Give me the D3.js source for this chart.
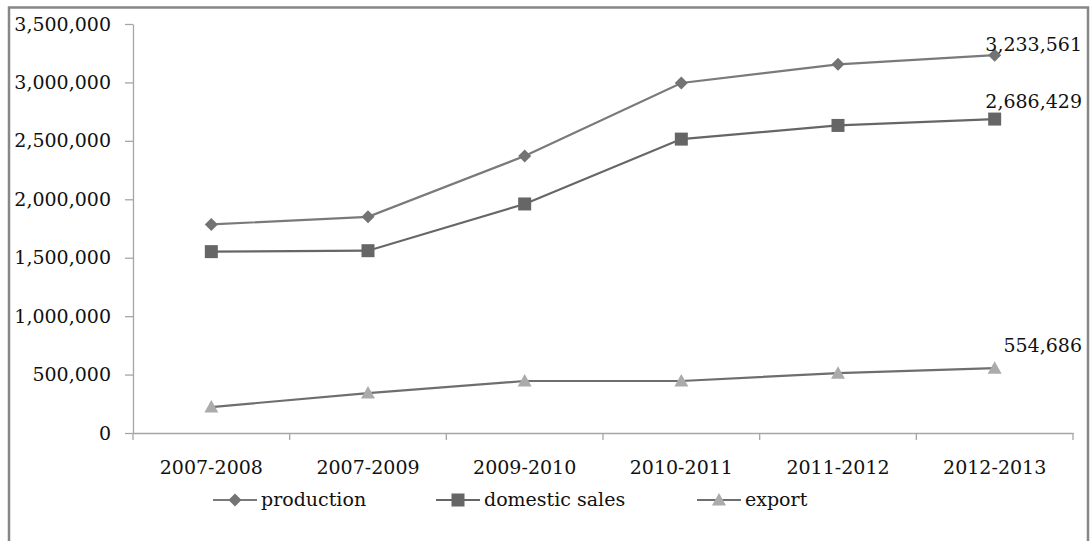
<!DOCTYPE html>
<html><head><meta charset="utf-8">
<script src="https://cdn.jsdelivr.net/npm/d3@7"></script>
<style>html,body{margin:0;padding:0;background:#fff;}svg{display:block;}</style>
</head><body>
<svg id="chart" width="1092" height="541"></svg>
<script>
const categories = ["2007-2008","2007-2009","2009-2010","2010-2011","2011-2012","2012-2013"];
const production = [1785000, 1850000, 2370000, 2995000, 3155000, 3233561];
const domesticSales = [1552000, 1560000, 1960000, 2515000, 2632000, 2686429];
const exportVals = [222000, 342000, 445000, 445000, 512000, 554686];
const yTicks = [0,500000,1000000,1500000,2000000,2500000,3000000,3500000];
const seriesNames = ["production","domestic sales","export"];

const svg = d3.select("#chart");
const font = "'DejaVu Serif', 'Liberation Serif', serif";
const fs = 19;

// outer frame
svg.append("rect").attr("x",9).attr("y",7.5).attr("width",1079).attr("height",560)
  .attr("fill","none").attr("stroke","#878787").attr("stroke-width",2.5);

const x0 = 133, x1 = 1073, yTop = 24, yBot = 433;
const x = d3.scaleBand().domain(categories).range([x0,x1]).padding(0);
const y = d3.scaleLinear().domain([0,3500000]).range([yBot,yTop]);
const fmt = d3.format(",");

// y axis
const yAxis = svg.append("g").attr("transform",`translate(${x0},0)`)
  .call(d3.axisLeft(y).tickValues(yTicks).tickFormat(fmt).tickSize(8).tickSizeOuter(0).tickPadding(14));
yAxis.select(".domain").attr("stroke","#a6a6a6").attr("stroke-width",1.3);
yAxis.selectAll(".tick line").attr("stroke","#a6a6a6").attr("stroke-width",1.3);
yAxis.selectAll(".tick text").attr("font-family",font).attr("font-size",fs).attr("fill","#111").attr("dy","0.32em");

// x axis
const xAxis = svg.append("g").attr("transform",`translate(0,${yBot})`)
  .call(d3.axisBottom(x).tickSize(0).tickPadding(28));
xAxis.select(".domain").attr("stroke","#a6a6a6").attr("stroke-width",1.3);
xAxis.selectAll(".tick text").attr("font-family",font).attr("font-size",fs).attr("fill","#111");
// category boundary ticks
const bounds = categories.map(c=>x(c)).concat([x1]);
svg.append("g").selectAll("line").data(bounds).join("line")
  .attr("x1",d=>d).attr("x2",d=>d).attr("y1",yBot).attr("y2",yBot+7)
  .attr("stroke","#a6a6a6").attr("stroke-width",1.3);

const cx = c => x(c) + x.bandwidth()/2;
const line = d3.line().x((d,i)=>cx(categories[i])).y(d=>y(d));

const series = [
  {name:seriesNames[0], values:production, line:"#7a7a7a", marker:"#737373", shape:"diamond", labelDy:-4},
  {name:seriesNames[1], values:domesticSales, line:"#666666", marker:"#666666", shape:"square", labelDy:-11},
  {name:seriesNames[2], values:exportVals, line:"#6e6e6e", marker:"#ababab", shape:"triangle", labelDy:-16}
];

function drawMarker(g, shape, color, px, py){
  if(shape==="diamond"){
    g.append("path").attr("d",`M${px},${py-6.5}L${px+6.5},${py}L${px},${py+6.5}L${px-6.5},${py}Z`).attr("fill",color);
  } else if(shape==="square"){
    g.append("rect").attr("x",px-6.5).attr("y",py-6.5).attr("width",13).attr("height",13).attr("fill",color);
  } else {
    g.append("path").attr("d",`M${px},${py-7}L${px+7},${py+5.5}L${px-7},${py+5.5}Z`).attr("fill",color);
  }
}

series.forEach(s=>{
  svg.append("path").datum(s.values).attr("d",line).attr("fill","none")
    .attr("stroke",s.line).attr("stroke-width",2.2);
  const g = svg.append("g");
  s.values.forEach((v,i)=>drawMarker(g, s.shape, s.marker, cx(categories[i]), y(v)));
});
// last value labels (drawn on top)
series.forEach(s=>{
  const lv = s.values[s.values.length-1];
  svg.append("text").attr("x",1082).attr("y",y(lv)+s.labelDy).attr("text-anchor","end")
    .attr("font-family",font).attr("font-size",fs).attr("fill","#111").text(fmt(lv));
});

// legend
const legendX = [213, 436, 697];
series.forEach((s,i)=>{
  const lx = legendX[i], ly = 500;
  const g = svg.append("g");
  g.append("line").attr("x1",lx).attr("x2",lx+44).attr("y1",ly).attr("y2",ly)
    .attr("stroke",s.line).attr("stroke-width",2.2);
  drawMarker(g, s.shape, s.marker, lx+22, ly);
  g.append("text").attr("x",lx+48).attr("y",ly).attr("dy","0.32em")
    .attr("font-family",font).attr("font-size",fs).attr("fill","#111").text(s.name);
});
</script>
</body></html>
